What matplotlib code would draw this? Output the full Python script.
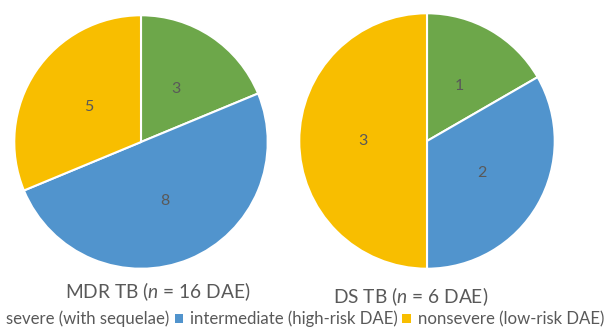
import matplotlib.pyplot as plt
from matplotlib.patches import Patch

categories = ['severe (with sequelae)', 'intermediate (high-risk DAE)', 'nonsevere (low-risk DAE)']
mdr_counts = [3, 8, 5]
ds_counts = [1, 2, 3]
titles = ['MDR TB ($\\it{n}$ = 16 DAE)', 'DS TB ($\\it{n}$ = 6 DAE)']
colors = ['#6DA74A', '#5194CD', '#F8BE00']
gray = '#595959'

plt.rcParams['font.family'] = ['Lato', 'DejaVu Sans']
plt.rcParams['mathtext.fontset'] = 'custom'
plt.rcParams['mathtext.it'] = 'Lato:italic'
plt.rcParams['mathtext.rm'] = 'Lato'

W, H = 616, 331
fig = plt.figure(figsize=(W / 100, H / 100), dpi=100)


def pie_axes(cx, cy, r):
    ax = fig.add_axes([(cx - r) / W, (H - cy - r) / H, 2 * r / W, 2 * r / H])
    return ax


def draw_pie(ax, counts):
    total = sum(counts)
    ax.pie(counts, colors=colors, startangle=90, counterclock=False,
           autopct=lambda p: '%d' % round(p * total / 100.0),
           pctdistance=0.5,
           wedgeprops=dict(edgecolor='white', linewidth=1.5),
           textprops=dict(color=gray, fontsize=11.5))
    ax.set_xlim(-1.01, 1.01)
    ax.set_ylim(-1.01, 1.01)
    ax.set_aspect('equal')
    ax.axis('off')


ax1 = pie_axes(141, 142, 128)
draw_pie(ax1, mdr_counts)
ax2 = pie_axes(427, 141, 129)
draw_pie(ax2, ds_counts)

fig.text(158 / W, 1 - 292 / H, titles[0], ha='center', va='center', fontsize=13.8, color=gray)
fig.text(411 / W, 1 - 297 / H, titles[1], ha='center', va='center', fontsize=13.8, color=gray)

handles = [Patch(facecolor=c, edgecolor='none') for c in colors]
fig.legend(handles, categories, loc='center right', ncol=3,
           bbox_to_anchor=(604 / W, 1 - 319 / H), frameon=False,
           fontsize=12.1, labelcolor=gray, borderpad=0, borderaxespad=0,
           handlelength=0.5, handleheight=0.5, handletextpad=0.4,
           columnspacing=0.3)

fig.savefig('out.png', dpi=100)
